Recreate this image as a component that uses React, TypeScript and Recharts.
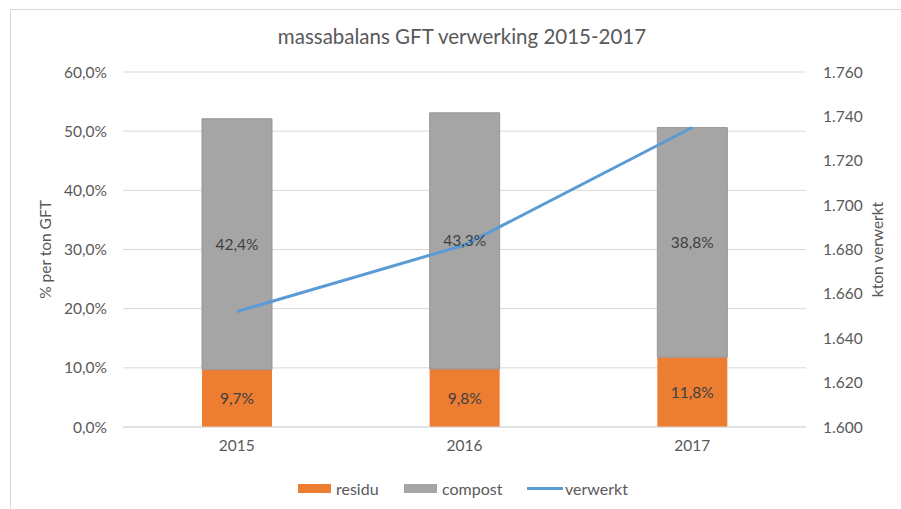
import { ComposedChart, Bar, Line, XAxis, YAxis, CartesianGrid, LabelList } from "recharts";

const years = ["2015", "2016", "2017"];
const residu = [9.7, 9.8, 11.8];
const compost = [42.4, 43.3, 38.8];
const verwerkt = [1652, 1682, 1735];

const pctTicks = [0, 10, 20, 30, 40, 50, 60];
const ktonTicks = [1600, 1620, 1640, 1660, 1680, 1700, 1720, 1740, 1760];

const data = years.map((year, i) => ({
  year,
  residu: residu[i],
  compost: compost[i],
  verwerkt: verwerkt[i],
}));

const FONT = "Lato, 'Open Sans', sans-serif";
const TEXT = "#595959";
const FS = 15.5;

const pct = (v: number) => v.toFixed(1).replace(".", ",") + "%";
const kton = (v: number) => (v / 1000).toFixed(3);

// legend entries: [label, colour, kind, left]
const legendItems: [string, string, "box" | "line", number][] = [
  ["residu", "#ED7D31", "box", 298],
  ["compost", "#A5A5A5", "box", 404],
  ["verwerkt", "#5B9BD5", "line", 527],
];

export default function App() {
  return (
    <div style={{ position: "absolute", left: 0, top: 0, width: 901, height: 509, background: "#fff", fontFamily: FONT, overflow: "hidden" }}>
      <div style={{ position: "absolute", left: 10, top: 9, width: 900, height: 510, border: "1px solid #d9d9d9" }} />
      <div style={{ position: "absolute", left: 0, width: 924, top: 24, textAlign: "center", fontSize: 20.5, color: TEXT }}>
        massabalans GFT verwerking 2015-2017
      </div>
      <ComposedChart
        width={901}
        height={509}
        data={data}
        margin={{ top: 72, right: 0, left: 0, bottom: 52 }}
        style={{ position: "absolute", left: 0, top: 0 }}
      >
        <CartesianGrid yAxisId="pct" vertical={false} stroke="#d9d9d9" />
        <XAxis
          dataKey="year"
          height={30}
          tickLine={false}
          tickSize={0}
          tickMargin={13}
          stroke="#d9d9d9"
          tick={{ fontSize: FS, fill: TEXT, fontFamily: FONT }}
        />
        <YAxis
          yAxisId="pct"
          width={123}
          domain={[0, 60]}
          ticks={pctTicks}
          tickFormatter={pct}
          axisLine={false}
          tickLine={false}
          tickSize={0}
          tickMargin={16}
          tick={{ fontSize: FS, fill: TEXT, fontFamily: FONT }}
          label={{ value: "% per ton GFT", angle: -90, position: "insideLeft", offset: 45, style: { textAnchor: "middle", fontSize: FS, fill: TEXT, fontFamily: FONT } }}
        />
        <YAxis
          yAxisId="kton"
          orientation="right"
          width={95}
          domain={[1600, 1760]}
          ticks={ktonTicks}
          tickFormatter={kton}
          axisLine={false}
          tickLine={false}
          tickSize={0}
          tickMargin={17}
          tick={{ fontSize: FS, fill: TEXT, fontFamily: FONT }}
          label={{ value: "kton verwerkt", angle: -90, position: "insideRight", offset: 24, style: { textAnchor: "middle", fontSize: FS, fill: TEXT, fontFamily: FONT } }}
        />
        <Bar yAxisId="pct" dataKey="residu" stackId="a" fill="#ED7D31" barSize={70} isAnimationActive={false}>
          <LabelList dataKey="residu" position="center" formatter={(v: any) => pct(Number(v))} style={{ fontSize: FS, fill: "#404040", fontFamily: FONT }} />
        </Bar>
        <Bar yAxisId="pct" dataKey="compost" stackId="a" fill="#A5A5A5" stroke="#979797" strokeWidth={1} barSize={70} isAnimationActive={false}>
          <LabelList dataKey="compost" position="center" formatter={(v: any) => pct(Number(v))} style={{ fontSize: FS, fill: "#404040", fontFamily: FONT, stroke: "none" }} />
        </Bar>
        <Line yAxisId="kton" dataKey="verwerkt" stroke="#5B9BD5" strokeWidth={3} dot={false} isAnimationActive={false} />
      </ComposedChart>
      {legendItems.map(([label, color, kind, left]) => (
        <div key={label} style={{ position: "absolute", top: 479, left, display: "flex", alignItems: "center", fontSize: 16, color: TEXT, whiteSpace: "nowrap" }}>
          {kind === "box" ? (
            <span style={{ display: "inline-block", width: 33, height: 9, background: color, marginRight: 5 }} />
          ) : (
            <span style={{ display: "inline-block", width: 36, height: 3, background: color, marginRight: 2 }} />
          )}
          <span>{label}</span>
        </div>
      ))}
    </div>
  );
}
